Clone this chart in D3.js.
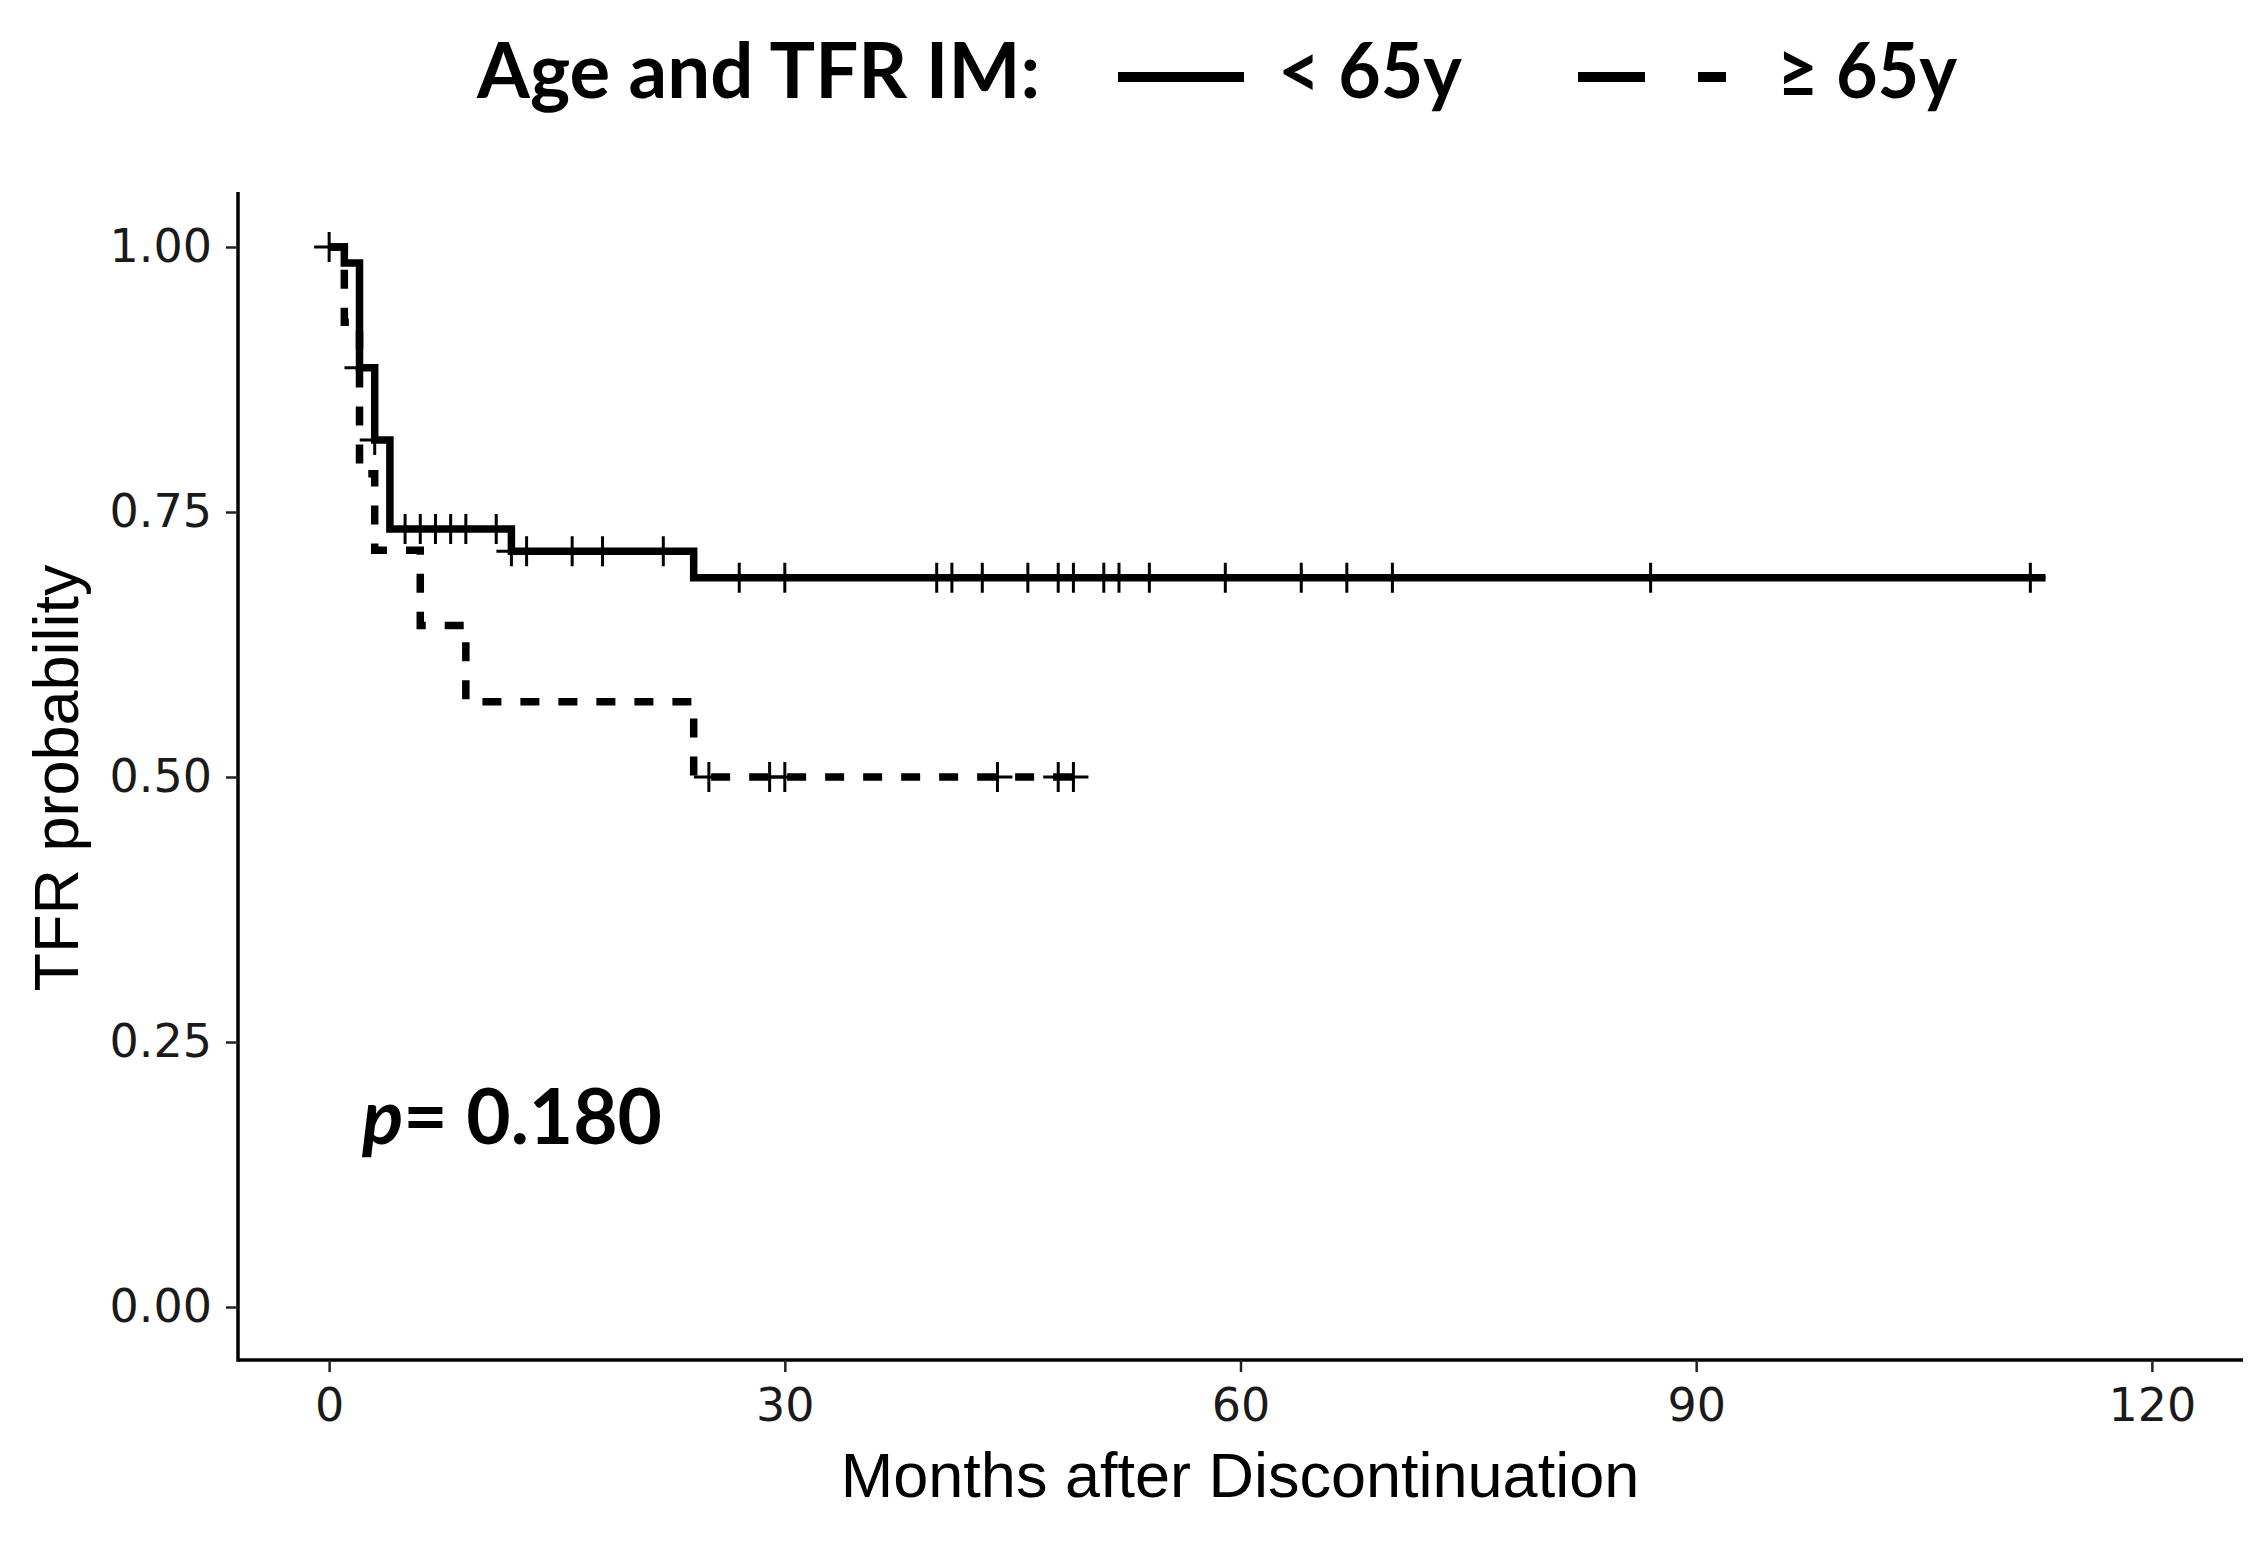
<!DOCTYPE html>
<html>
<head>
<meta charset="utf-8">
<style>
    body { margin: 0; background: #ffffff; }
    .tick text { font-family: "DejaVu Sans", sans-serif; font-size: 46px; fill: #1a1a1a; }
</style>
<script src="https://d3js.org/d3.v7.min.js"></script>
</head>
<body>
<script>
    // step points of each Kaplan-Meier curve (months, probability)
    var youngTimes = [0, 1, 2, 3, 4, 12, 24, 113];
    var youngSurv = [1.00, 0.985, 0.886, 0.818, 0.734, 0.713, 0.688, 0.688];
    var youngCensor = [0, 2, 3, 5, 6, 7, 8, 9, 11, 12, 13, 16, 18, 22, 27, 30, 40, 41, 43, 46, 48, 49, 51, 52, 54, 59, 64, 67, 70, 87, 112];

    var oldTimes = [0, 1, 2, 3, 6, 9, 24, 50];
    var oldSurv = [1.00, 0.929, 0.786, 0.714, 0.643, 0.571, 0.500, 0.500];
    var oldCensor = [25, 29, 30, 44, 48, 49];

    var xTicks = [0, 30, 60, 90, 120];
    var yTicks = [0, 0.25, 0.5, 0.75, 1];
    var legendLabels = ["< 65y", "\u2265 65y"];
    var pText = "0.180";

    var w = 2265, h = 1546;
    var svg = d3.select("body").append("svg")
        .attr("width", w)
        .attr("height", h)
        .style("background", "#fff");

    var x = d3.scaleLinear().domain([-6, 126]).range([238, 2243]);
    var y = d3.scaleLinear().domain([-0.05, 1.05]).range([1360, 194]);

    // axes
    var xAxis = svg.append("g")
        .attr("transform", "translate(0,1360)")
        .call(d3.axisBottom(x).tickValues(xTicks).tickSize(12).tickSizeOuter(0).tickPadding(16));
    var yAxis = svg.append("g")
        .attr("transform", "translate(238,0)")
        .call(d3.axisLeft(y).tickValues(yTicks).tickFormat(d3.format(".2f")).tickSize(12).tickSizeOuter(0).tickPadding(14));
    svg.selectAll(".domain").attr("stroke", "#000").attr("stroke-width", 3.5);
    svg.selectAll(".tick line").attr("stroke", "#222").attr("stroke-width", 2.5);
    xAxis.select(".domain").attr("d", "M238,0H2243");
    yAxis.select(".domain").attr("d", "M0,192V1361.7");

    svg.append("text")
        .attr("x", 1240).attr("y", 1497)
        .attr("text-anchor", "middle")
        .style("font-family", "'Liberation Sans', Arial, sans-serif")
        .style("font-size", "63px")
        .text("Months after Discontinuation");

    svg.append("text")
        .attr("transform", "translate(78,778) rotate(-90)")
        .attr("text-anchor", "middle")
        .style("font-family", "'Liberation Sans', Arial, sans-serif")
        .style("font-size", "63px")
        .text("TFR probability");

    // curves
    var step = d3.line()
        .x(function (d) { return x(d[0]); })
        .y(function (d) { return y(d[1]); })
        .curve(d3.curveStepAfter);

    function survAt(times, surv, t) {
        var s = surv[0];
        for (var i = 0; i < times.length; i++) {
            if (times[i] <= t) s = surv[i];
        }
        return s;
    }

    var groups = [
        { times: youngTimes, surv: youngSurv, censor: youngCensor, dash: null },
        { times: oldTimes, surv: oldSurv, censor: oldCensor, dash: "19,19" }
    ];

    // dashed curve underneath, solid on top
    groups.slice().reverse().forEach(function (g) {
        var pts = g.times.map(function (t, i) { return [t, g.surv[i]]; });
        svg.append("path")
            .datum(pts)
            .attr("d", step)
            .attr("fill", "none")
            .attr("stroke", "#000")
            .attr("stroke-width", 7.5)
            .attr("stroke-dasharray", g.dash);

        svg.append("g").selectAll("path")
            .data(g.censor)
            .enter()
            .append("path")
            .attr("d", function (t) {
                var cx = x(t), cy = y(survAt(g.times, g.surv, t));
                return "M" + (cx - 15) + "," + cy + "H" + (cx + 15) + "M" + cx + "," + (cy - 15) + "V" + (cy + 15);
            })
            .attr("stroke", "#000")
            .attr("stroke-width", 3);
    });

    // p value
    var pv = svg.append("text")
        .attr("x", 362).attr("y", 1144)
        .attr("textLength", 300).attr("lengthAdjust", "spacingAndGlyphs")
        .style("font-family", "Lato, sans-serif")
        .style("font-weight", "bold")
        .style("font-size", "76px");
    pv.append("tspan").style("font-style", "italic").text("p");
    pv.append("tspan").text("= " + pText);

    // legend
    var legFont = "Lato, sans-serif";
    svg.append("text")
        .attr("x", 477).attr("y", 98)
        .attr("textLength", 563).attr("lengthAdjust", "spacingAndGlyphs")
        .style("font-family", legFont).style("font-weight", "bold").style("font-size", "76px")
        .text("Age and TFR IM:");

    svg.append("line")
        .attr("x1", 1118).attr("x2", 1244).attr("y1", 77).attr("y2", 77)
        .attr("stroke", "#000").attr("stroke-width", 10);
    svg.append("text")
        .attr("x", 1278).attr("y", 98)
        .attr("textLength", 184).attr("lengthAdjust", "spacingAndGlyphs")
        .style("font-family", legFont).style("font-weight", "bold").style("font-size", "76px")
        .text(legendLabels[0]);

    svg.append("line")
        .attr("x1", 1578).attr("x2", 1726).attr("y1", 77).attr("y2", 77)
        .attr("stroke", "#000").attr("stroke-width", 10)
        .attr("stroke-dasharray", "67,53");
    svg.append("text")
        .attr("x", 1777).attr("y", 98)
        .attr("textLength", 180).attr("lengthAdjust", "spacingAndGlyphs")
        .style("font-family", legFont).style("font-weight", "bold").style("font-size", "76px")
        .text(legendLabels[1]);
</script>
</body>
</html>
